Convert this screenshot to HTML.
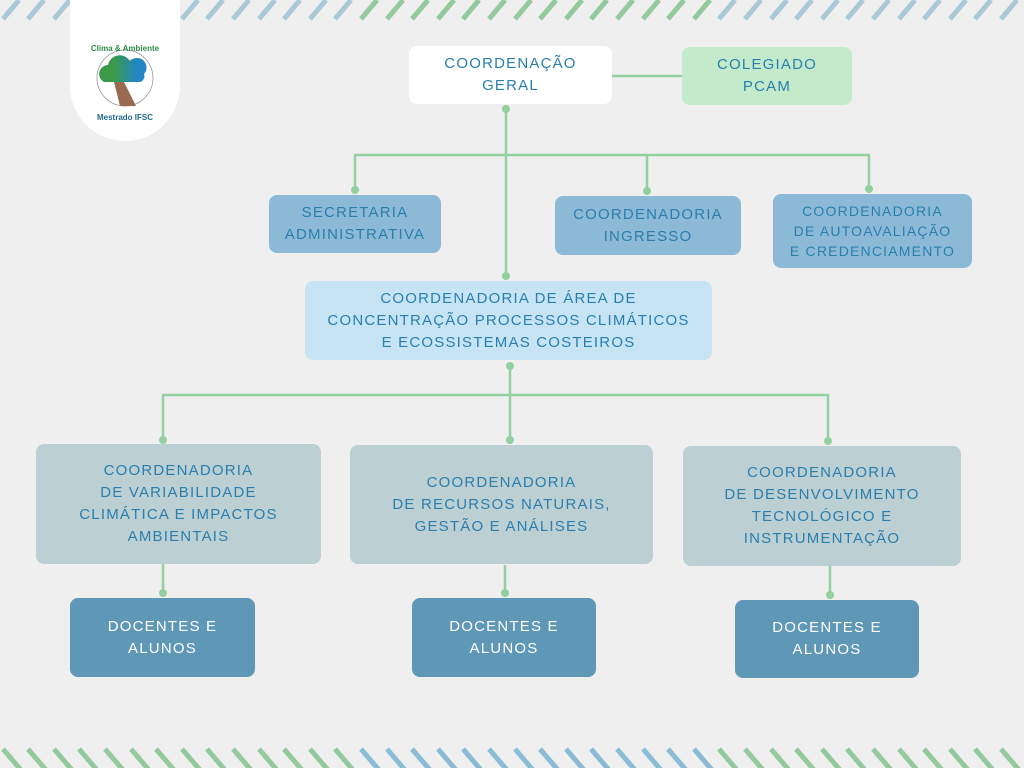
<!DOCTYPE html>
<html><head><meta charset="utf-8"><style>
body{margin:0;width:1024px;height:768px;background:#efefef;position:relative;overflow:hidden;font-family:"Liberation Sans","DejaVu Sans",sans-serif}
.b{position:absolute;display:flex;align-items:center;justify-content:center;text-align:center;color:#2a7fae;font-size:15px;letter-spacing:1.2px;line-height:22px;border-radius:8px;box-sizing:border-box}
.d{color:#fff;background:#5f97b7}
svg{position:absolute;left:0;top:0}
</style></head><body>
<svg width="1024" height="768">
<g stroke-width="5">
<g stroke="#a9c8d8">
<path d="M-23 19l16-19M3 19l16-19M28 19l16-19M54 19l16-19M79 19l16-19M105 19l16-19M131 19l16-19M156 19l16-19M182 19l16-19M207 19l16-19M233 19l16-19M259 19l16-19M284 19l16-19M310 19l16-19M335 19l16-19"/>
<path d="M719 19l16-19M745 19l16-19M771 19l16-19M796 19l16-19M822 19l16-19M847 19l16-19M873 19l16-19M899 19l16-19M924 19l16-19M950 19l16-19M975 19l16-19M1001 19l16-19"/>
</g>
<g stroke="#93c99c">
<path d="M361 19l16-19M387 19l16-19M412 19l16-19M438 19l16-19M463 19l16-19M489 19l16-19M515 19l16-19M540 19l16-19M566 19l16-19M591 19l16-19M617 19l16-19M643 19l16-19M668 19l16-19M694 19l16-19"/>
<path d="M-23 749l18 21M3 749l18 21M28 749l18 21M54 749l18 21M79 749l18 21M105 749l18 21M131 749l18 21M156 749l18 21M182 749l18 21M207 749l18 21M233 749l18 21M259 749l18 21M284 749l18 21M310 749l18 21M335 749l18 21"/>
<path d="M719 749l18 21M745 749l18 21M771 749l18 21M796 749l18 21M822 749l18 21M847 749l18 21M873 749l18 21M899 749l18 21M924 749l18 21M950 749l18 21M975 749l18 21M1001 749l18 21"/>
</g>
<g stroke="#8bbcd6">
<path d="M361 749l18 21M387 749l18 21M412 749l18 21M438 749l18 21M463 749l18 21M489 749l18 21M515 749l18 21M540 749l18 21M566 749l18 21M591 749l18 21M617 749l18 21M643 749l18 21M668 749l18 21M694 749l18 21"/>
</g>
</g>
<g stroke="#93d09f" stroke-width="2.5" fill="none">
<path d="M612 76H682M506 108V276M355 190V155H869V189M647 155V191M510 366V440M163 440V395H828V440M163 564V593M505 565V593M830 566V595"/>
</g>
<g fill="#93d09f">
<circle cx="506" cy="109" r="4"/><circle cx="506" cy="276" r="4"/><circle cx="355" cy="190" r="4"/><circle cx="647" cy="191" r="4"/><circle cx="869" cy="189" r="4"/>
<circle cx="510" cy="366" r="4"/><circle cx="163" cy="440" r="4"/><circle cx="510" cy="440" r="4"/><circle cx="828" cy="441" r="4"/>
<circle cx="163" cy="593" r="4"/><circle cx="505" cy="593" r="4"/><circle cx="830" cy="595" r="4"/>
</g>
</svg>
<div style="position:absolute;left:70px;top:-10px;width:110px;height:151px;background:#fff;border-radius:0 0 55px 55px"></div>
<svg width="1024" height="200">
<circle cx="125" cy="78" r="28" fill="none" stroke="#999" stroke-width="0.8"/>
<circle cx="133" cy="66" r="7" fill="#e8b060"/>
<defs><linearGradient id="g" x1="0" x2="1"><stop offset="0.3" stop-color="#3a9a48"/><stop offset="0.8" stop-color="#2386c4"/></linearGradient></defs>
<path d="M104 82a9 9 0 0 1 4-17a12 12 0 0 1 22-4a9 9 0 0 1 14 13a6 6 0 0 1-4 8z" fill="url(#g)"/>
<path d="M114 82l6 24h16l-12-24z" fill="#9a6a50"/>
<text x="125" y="51" font-size="8" font-weight="bold" fill="#2f8b48" text-anchor="middle" font-family="Liberation Sans">Clima &amp; Ambiente</text>
<text x="125" y="120" font-size="8" font-weight="bold" fill="#236a8c" text-anchor="middle" font-family="Liberation Sans">Mestrado IFSC</text>
</svg>
<div class="b" style="left:409px;top:46px;width:203px;height:58px;background:#fff">COORDENAÇÃO<br>GERAL</div>
<div class="b" style="left:682px;top:47px;width:170px;height:58px;background:#c2eacb">COLEGIADO<br>PCAM</div>
<div class="b" style="left:269px;top:195px;width:172px;height:58px;background:#8cbad6">SECRETARIA<br>ADMINISTRATIVA</div>
<div class="b" style="left:555px;top:196px;width:186px;height:59px;background:#8cbad6">COORDENADORIA<br>INGRESSO</div>
<div class="b" style="left:773px;top:194px;width:199px;height:74px;background:#8cbad6;font-size:14px;line-height:20px">COORDENADORIA<br>DE AUTOAVALIAÇÃO<br>E CREDENCIAMENTO</div>
<div class="b" style="left:305px;top:281px;width:407px;height:79px;background:#c6e4f4">COORDENADORIA DE ÁREA DE<br>CONCENTRAÇÃO PROCESSOS CLIMÁTICOS<br>E ECOSSISTEMAS COSTEIROS</div>
<div class="b" style="left:36px;top:444px;width:285px;height:120px;background:#bccfd2">COORDENADORIA<br>DE VARIABILIDADE<br>CLIMÁTICA E IMPACTOS<br>AMBIENTAIS</div>
<div class="b" style="left:350px;top:445px;width:303px;height:119px;background:#bccfd2">COORDENADORIA<br>DE RECURSOS NATURAIS,<br>GESTÃO E ANÁLISES</div>
<div class="b" style="left:683px;top:446px;width:278px;height:120px;background:#bccfd2">COORDENADORIA<br>DE DESENVOLVIMENTO<br>TECNOLÓGICO E<br>INSTRUMENTAÇÃO</div>
<div class="b d" style="left:70px;top:598px;width:185px;height:79px">DOCENTES E<br>ALUNOS</div>
<div class="b d" style="left:412px;top:598px;width:184px;height:79px">DOCENTES E<br>ALUNOS</div>
<div class="b d" style="left:735px;top:600px;width:184px;height:78px">DOCENTES E<br>ALUNOS</div>
</body></html>
